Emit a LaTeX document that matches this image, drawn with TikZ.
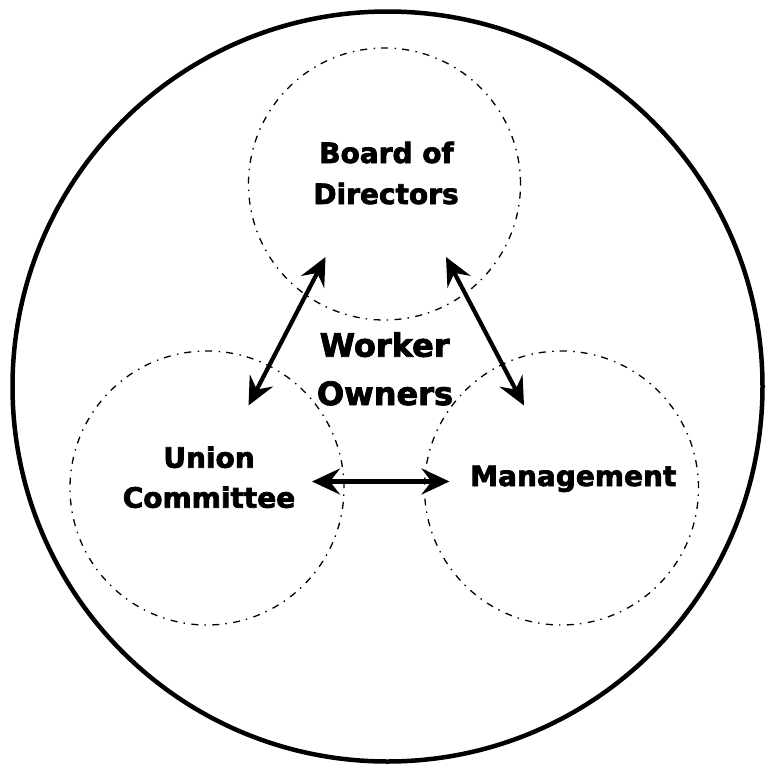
\documentclass[tikz,border=0pt]{standalone}
\usepackage{fontspec}
\setmainfont{DejaVu Sans}[BoldFeatures={FakeBold=2.5}]
\usetikzlibrary{arrows.meta}
\tikzset{
  outer/.style={draw, line width=4.5pt},
  group/.style={draw, line width=1.3pt, dash pattern=on 7pt off 6pt on 1.5pt off 6.5pt},
  lbl/.style={anchor=base, inner sep=0pt, font=\bfseries\fontsize{28}{34}\selectfont},
  big/.style={anchor=base, inner sep=0pt, font=\bfseries\fontsize{32}{38}\selectfont},
  link/.style={line width=4.2pt, {Stealth[length=28pt,width=26pt,inset=10pt]}-{Stealth[length=28pt,width=26pt,inset=10pt]}}
}
\begin{document}
\begin{tikzpicture}[x=1pt,y=-1pt]
\useasboundingbox (0,0) rectangle (764,766);
\draw[outer] (387.5,386.5) circle[radius=375];
\node[group, circle, minimum size=272pt, inner sep=0pt] (board) at (384.5,184) {};
\node[group, circle, minimum size=274pt, inner sep=0pt] (union) at (207,488) {};
\node[group, circle, minimum size=274pt, inner sep=0pt] (mgmt) at (561.5,488) {};
\node[lbl] (b1) at (386.5,163) {Board of};
\node[lbl] (b2) at (386,204) {Directors};
\node[big] (w1) at (384.7,356.7) {Worker};
\node[big] (w2) at (385,405) {Owners};
\node[lbl] (u1) at (209,467.7) {Union};
\node[lbl] (u2) at (209,507.7) {Committee};
\node[lbl] (m1) at (573.3,486) {Management};
\coordinate (bu1) at (325.5,257);
\coordinate (bu2) at (248.5,405.5);
\coordinate (bm1) at (446,257);
\coordinate (bm2) at (524,405.5);
\coordinate (um1) at (312,481.5);
\coordinate (um2) at (449.5,481.5);
\draw[link] (bu1) -- (bu2);
\draw[link] (bm1) -- (bm2);
\draw[link] (um1) -- (um2);
\end{tikzpicture}
\end{document}
